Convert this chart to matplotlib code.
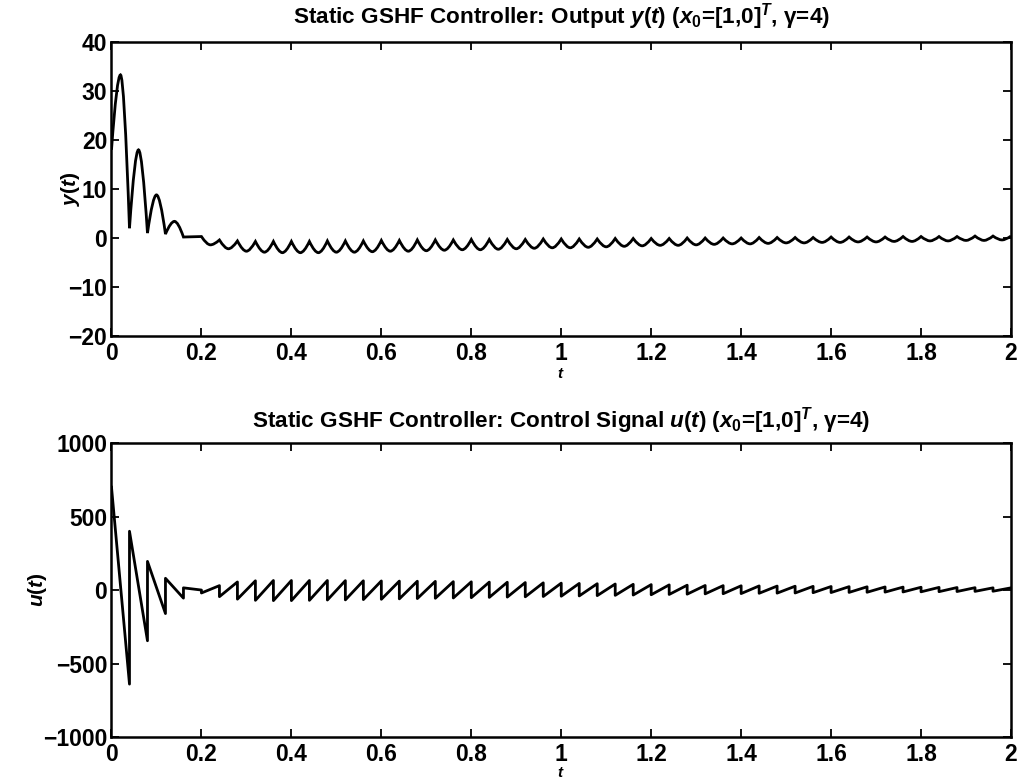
import matplotlib
matplotlib.use("Agg")
import matplotlib.pyplot as plt
from matplotlib.path import Path
from matplotlib.patches import PathPatch

plt.rcParams['font.family'] = ['Liberation Sans', 'DejaVu Sans']
plt.rcParams['font.weight'] = 'bold'
plt.rcParams['mathtext.fontset'] = 'custom'
plt.rcParams['mathtext.rm'] = 'Liberation Sans:bold'
plt.rcParams['mathtext.it'] = 'Liberation Sans:italic:bold'
plt.rcParams['mathtext.bf'] = 'Liberation Sans:bold'

# --- data ---
h = 0.04  # sampling period

# output y(t): arches over the first four periods
y_start = 18.0
y_arch_peak = [33.3, 18.0, 8.8, 3.4]   # maxima inside each period
y_arch_low = [2.0, 1.0, 0.8, 0.2]      # values at t = 0.04, 0.08, 0.12, 0.16
y_flat = 0.3                           # plateau up to t = 0.2
y_dip = -1.4                           # trough between 0.2 and 0.24

# ripple after t = 0.24: cusp at every sampling instant, trough in between
y_cusp = [-0.4, -0.6, -0.7, -0.7, -0.7, -0.7, -0.6, -0.6, -0.6, -0.5,
          -0.5, -0.4, -0.4, -0.4, -0.3, -0.3, -0.3, -0.3, -0.2, -0.2,
          -0.2, -0.2, -0.1, -0.1, -0.1, -0.1, 0.0, 0.0, 0.0, 0.0,
          0.1, 0.1, 0.1, 0.1, 0.2, 0.2, 0.2, 0.2, 0.3, 0.3,
          0.3, 0.3, 0.4, 0.4, 0.4]
y_trough = [-2.2, -2.7, -2.9, -3.0, -3.0, -3.0, -2.9, -2.9, -2.8, -2.7,
            -2.7, -2.6, -2.5, -2.4, -2.4, -2.3, -2.2, -2.1, -2.0, -2.0,
            -1.9, -1.8, -1.7, -1.6, -1.5, -1.5, -1.4, -1.3, -1.2, -1.2,
            -1.1, -1.0, -1.0, -0.9, -0.9, -0.8, -0.8, -0.7, -0.7, -0.6,
            -0.6, -0.5, -0.5, -0.4]

# control signal u(t): value right after and right before each sampling instant
u_after = [700, 400, 195, 80, 15, -20, -45, -62, -70, -72,
           -72, -70, -68, -67, -65, -63, -60, -58, -56, -54,
           -52, -50, -48, -46, -44, -42, -40, -38, -36, -34,
           -32, -30, -28, -26, -25, -24, -22, -21, -20, -18,
           -17, -16, -15, -14, -13, -12, -11, -10, -9, -8]
u_before = [-640, -345, -160, -55, 0, 30, 55, 63, 65, 65,
            65, 65, 64, 63, 62, 61, 60, 59, 57, 56,
            54, 53, 51, 49, 47, 45, 43, 41, 39, 37,
            35, 33, 31, 30, 29, 28, 27, 26, 25, 24,
            23, 22, 21, 20, 19, 18, 17, 16, 15, 15]

x_ticks = [0, 0.2, 0.4, 0.6, 0.8, 1, 1.2, 1.4, 1.6, 1.8, 2]
x_ticklabels = ['0', '0.2', '0.4', '0.6', '0.8', '1', '1.2', '1.4', '1.6', '1.8', '2']
y_ticks_top = [-20, -10, 0, 10, 20, 30, 40]
y_ticks_bottom = [-1000, -500, 0, 500, 1000]

title_top = r"Static GSHF Controller: Output $y(t)$ ($x_0$=[1,0]$^T$, γ=4)"
title_bottom = r"Static GSHF Controller: Control Signal $u(t)$ ($x_0$=[1,0]$^T$, γ=4)"

# --- build y(t) as a path of rounded arches with sharp cusps ---
c = 0.012  # horizontal offset of the bezier handle from the cusp
verts = [(0.0, y_start)]
codes = [Path.MOVETO]


def add_lobe(t0, extreme, end_val):
    verts.extend([(t0 + c, extreme), (t0 + h / 2, extreme),
                  (t0 + h - c, extreme), (t0 + h, end_val)])
    codes.extend([Path.CURVE3] * 4)


for i, pk in enumerate(y_arch_peak):
    add_lobe(i * h, pk, y_arch_low[i])
verts.append((0.2, y_flat))
codes.append(Path.LINETO)
add_lobe(0.2, y_dip, y_cusp[0])
for k, tr in enumerate(y_trough):
    add_lobe(0.24 + k * h, tr, y_cusp[k + 1])

# --- u(t) vertices ---
t_u, u_vals = [], []
for k in range(len(u_after)):
    t_u += [k * h, (k + 1) * h]
    u_vals += [u_after[k], u_before[k]]

# --- figure ---
fig = plt.figure(figsize=(10.21, 7.81), dpi=100)
ax1 = fig.add_axes([0.1092, 0.5698, 0.8810, 0.3764])
ax2 = fig.add_axes([0.1092, 0.0563, 0.8810, 0.3764])

ax1.add_patch(PathPatch(Path(verts, codes), fill=False, lw=2.0, ec='black'))
ax2.plot(t_u, u_vals, color='black', lw=2.0)

for ax, yt in ((ax1, y_ticks_top), (ax2, y_ticks_bottom)):
    ax.set_xlim(0, 2)
    ax.set_ylim(yt[0], yt[-1])
    ax.set_xticks(x_ticks)
    ax.set_xticklabels(x_ticklabels)
    ax.set_yticks(yt)
    ax.tick_params(direction='in', length=6, width=1.3, top=True, right=True,
                   labelsize=16.5)
    ax.tick_params(axis='x', pad=4)
    ax.tick_params(axis='y', pad=3)
    for sp in ax.spines.values():
        sp.set_linewidth(1.8)

ax1.set_title(title_top, fontsize=16.2, fontweight='bold', pad=13)
ax2.set_title(title_bottom, fontsize=16.2, fontweight='bold', pad=11)
ax1.set_xlabel('$t$', fontsize=11)
ax2.set_xlabel('$t$', fontsize=11)
ax1.xaxis.set_label_coords(0.5, -0.105)
ax2.xaxis.set_label_coords(0.5, -0.1)
ax1.set_ylabel('$y(t)$', fontsize=15)
ax2.set_ylabel('$u(t)$', fontsize=15)
ax1.yaxis.set_label_coords(-0.033, 0.5)
ax2.yaxis.set_label_coords(-0.07, 0.5)

fig.savefig('out.png', dpi=100)
